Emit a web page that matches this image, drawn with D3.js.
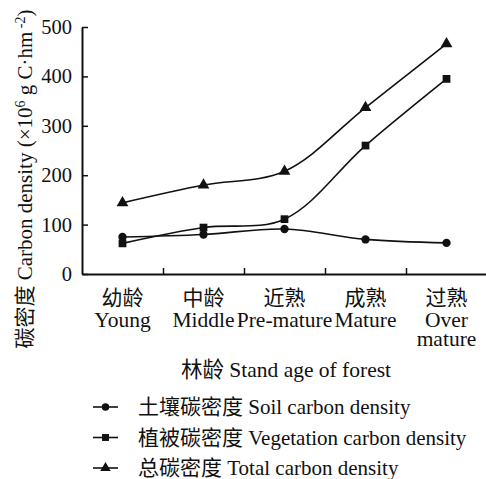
<!DOCTYPE html>
<html><head><meta charset="utf-8">
<script src="https://cdn.jsdelivr.net/npm/d3@7"></script>
<style>body{margin:0;background:#fff}svg{display:block}text{font-family:"Liberation Serif","Times New Roman","Noto Sans CJK SC",serif;fill:#111}</style>
</head><body><svg id="c" width="486" height="479"></svg>
<script>
const categoriesZh = ["幼龄","中龄","近熟","成熟","过熟"];
const categoriesEn = [["Young"],["Middle"],["Pre-mature"],["Mature"],["Over","mature"]];
const soil = [75, 80, 91, 70, 63];
const vegetation = [62, 94, 111, 260, 395];
const total = [144, 180, 208, 337, 466];
const yTicks = [0, 100, 200, 300, 400, 500];
const seriesNames = ["土壤碳密度 Soil carbon density","植被碳密度 Vegetation carbon density","总碳密度 Total carbon density"];

const svg = d3.select("#c");
const m = {l:82, r:487, t:27, b:274};
const x = d3.scaleBand().domain(d3.range(categoriesZh.length)).range([m.l, m.r]);
const y = d3.scaleLinear().domain([0,500]).range([m.b, m.t]);
const ink = "#111";

// axes
const yAxis = svg.append("g").attr("transform",`translate(${m.l},0)`)
  .call(d3.axisLeft(y).tickValues(yTicks).tickSizeInner(-6).tickSizeOuter(0).tickPadding(10));
yAxis.select(".domain").attr("stroke",ink).attr("stroke-width",2);
yAxis.selectAll(".tick line").attr("stroke",ink).attr("stroke-width",1.5);
yAxis.selectAll(".tick text").attr("font-size",20.5).style("font-family",'"Liberation Serif",serif').attr("fill",ink);

const xAxis = svg.append("g").attr("transform",`translate(0,${m.b})`)
  .call(d3.axisBottom(d3.scaleLinear().domain([0,5]).range([m.l,m.r])).tickValues([1,2,3,4]).tickSizeInner(-6).tickSizeOuter(0).tickFormat(""));
xAxis.select(".domain").attr("stroke",ink).attr("stroke-width",2);
xAxis.selectAll(".tick line").attr("stroke",ink).attr("stroke-width",1.5);

// category labels
const cat = svg.append("g");
categoriesZh.forEach((c,i)=>{
  const cx = x(i)+x.bandwidth()/2;
  cat.append("text").attr("x",cx).attr("y",305).attr("text-anchor","middle").attr("font-size",21).attr("fill","#222").text(c);
  const t = cat.append("text").attr("x",cx).attr("y",327).attr("text-anchor","middle").attr("font-size",21.5);
  categoriesEn[i].forEach((s,j)=>{
    t.append("tspan").attr("x",cx).attr("dy",j===0?0:19).text(s);
  });
});

// axis titles
svg.append("text").attr("x",286).attr("y",377).attr("text-anchor","middle").attr("font-size",21.5).text("林龄 Stand age of forest");
const yl = svg.append("text").attr("transform","translate(32,179) rotate(-90)").attr("text-anchor","middle").attr("font-size",21);
yl.append("tspan").text("碳密度 Carbon density (×10");
yl.append("tspan").attr("font-size",14).attr("dy",-7).text("6");
yl.append("tspan").attr("dy",7).text(" g C·hm");
yl.append("tspan").attr("font-size",14).attr("dy",-7).text(" -2");
yl.append("tspan").attr("dy",7).text(")");

// series
const line = d3.line().x((d,i)=>x(i)+x.bandwidth()/2).y(d=>y(d)).curve(d3.curveCatmullRom.alpha(0.5));
const series = [
  {v:soil, sym:d3.symbolCircle, size:55},
  {v:vegetation, sym:d3.symbolSquare, size:60},
  {v:total, sym:d3.symbolTriangle, size:60}
];
series.forEach(s=>{
  svg.append("path").attr("d",line(s.v)).attr("fill","none").attr("stroke",ink).attr("stroke-width",1.6);
  svg.selectAll(null).data(s.v).enter().append("path")
    .attr("transform",(d,i)=>`translate(${x(i)+x.bandwidth()/2},${y(d)})`)
    .attr("d",d3.symbol().type(s.sym).size(s.size)).attr("fill",ink);
});

// legend
const lg = svg.append("g");
series.forEach((s,i)=>{
  const ly = 407 + i*30.5;
  lg.append("line").attr("x1",93).attr("x2",118).attr("y1",ly).attr("y2",ly).attr("stroke",ink).attr("stroke-width",1.6);
  lg.append("path").attr("transform",`translate(105.5,${ly})`).attr("d",d3.symbol().type(s.sym).size(s.size*0.8)).attr("fill",ink);
  lg.append("text").attr("x",138).attr("y",ly+7).attr("font-size",21).text(seriesNames[i]);
});
</script></body></html>
